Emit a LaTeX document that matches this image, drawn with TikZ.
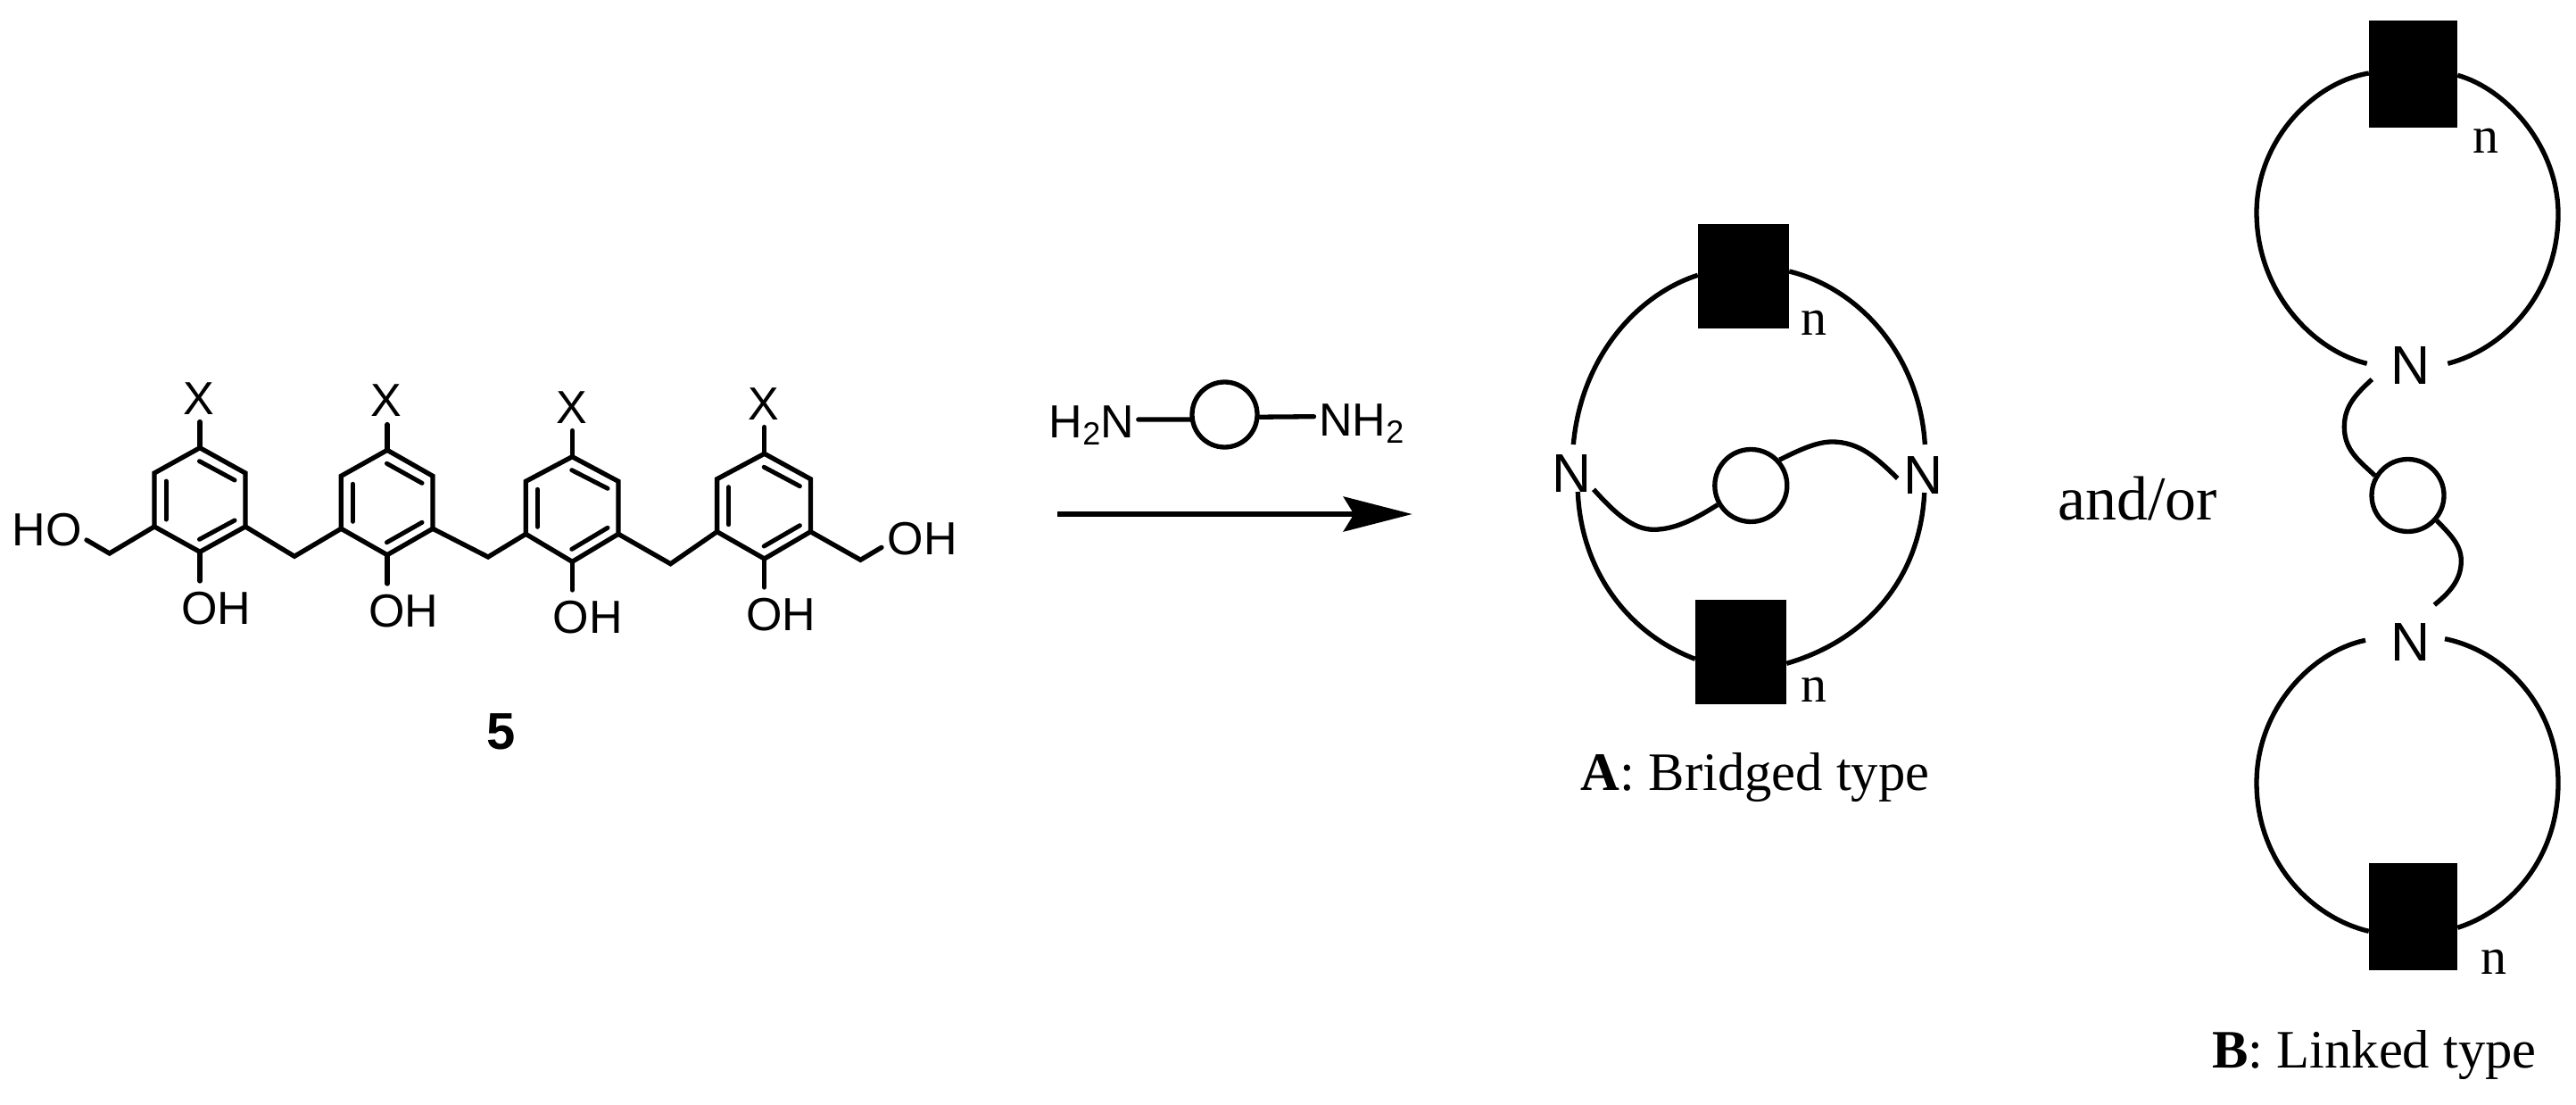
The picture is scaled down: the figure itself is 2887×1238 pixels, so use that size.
\documentclass[tikz,border=0pt]{standalone}
\usepackage{fontspec}
\usepackage{graphicx}
\setmainfont{Liberation Sans}
\newfontfamily\capfont{Liberation Serif}
\usetikzlibrary{arrows.meta}
\newcommand{\chemsize}{\fontsize{52pt}{52pt}\selectfont}
\newcommand{\sbs}[1]{\raisebox{-8pt}{\fontsize{36pt}{36pt}\selectfont #1}}
% name, left x, centre x, right x, top y, upper y, lower y, bottom y
\newcommand{\chemring}[8]{%
  \coordinate (#1t) at (#3,#5);
  \coordinate (#1ur) at (#4,#6);
  \coordinate (#1lr) at (#4,#7);
  \coordinate (#1b) at (#3,#8);
  \coordinate (#1ll) at (#2,#7);
  \coordinate (#1ul) at (#2,#6);
  \draw[bond] (#1t) -- (#1ur) -- (#1lr) -- (#1b) -- (#1ll) -- (#1ul) -- cycle;
  \draw[inner bond] ([shift={(-0.5,15)}]#1t) -- ([shift={(-12,8)}]#1ur);
  \draw[inner bond] ([shift={(13,9)}]#1ul) -- ([shift={(13,-8)}]#1ll);
  \draw[inner bond] ([shift={(-0.5,-14)}]#1b) -- ([shift={(-12,-7)}]#1lr);
}
\tikzset{
  x=1pt,y=-1pt,
  bond/.style={line width=5.3pt,line join=miter,line cap=round},
  inner bond/.style={line width=5pt,line cap=round},
  curve/.style={line width=5.3pt,line cap=butt},
  chembase/.style={font=\chemsize,inner sep=0pt,anchor=base},
  chemN/.style={font=\fontsize{61pt}{61pt}\selectfont,inner sep=0pt,anchor=base},
  caption/.style={font=\capfont\fontsize{60.6pt}{60.6pt}\selectfont,inner sep=0pt,anchor=base west},
  repeat/.style={font=\capfont\fontsize{58pt}{58pt}\selectfont,inner sep=0pt,anchor=base},
  block/.style={fill=black,draw=none,inner sep=0pt,minimum width=#1},
  spacer/.style={draw,circle,line width=5.3pt,inner sep=0pt,minimum size=#1},
}
\begin{document}
\begin{tikzpicture}
\useasboundingbox (0,0) rectangle (2887,1238);

% ---- compound 5 ----
\chemring{a}{173}{224}{275}{501.7}{530}{590}{618.3}
\chemring{b}{382.3}{434}{485}{504.3}{533.3}{592.3}{621.7}
\chemring{c}{589.3}{641.3}{693}{511.7}{539.3}{598.3}{629.3}
\chemring{d}{803.6}{856.7}{908.4}{508.3}{536.7}{595.7}{626}
\coordinate (m1) at (330,623.3);
\coordinate (m2) at (547,624);
\coordinate (m3) at (751.5,631.7);
\coordinate (m0) at (122.7,620);
\coordinate (m4) at (964.4,627.3);
\coordinate (o0) at (97,605);
\coordinate (o4) at (988,613.3);
\draw[bond] (alr) -- (m1) -- (bll);
\draw[bond] (blr) -- (m2) -- (cll);
\draw[bond] (clr) -- (m3) -- (dll);
\draw[bond] (o0) -- (m0) -- (all);
\draw[bond] (o4) -- (m4) -- (dlr);

\node[chembase] (xa) at (223.3,464) {X};
\node[chembase] (xb) at (433.3,466.7) {X};
\node[chembase] (xc) at (641.3,474) {X};
\node[chembase] (xd) at (856,470) {X};
\coordinate (xae) at (224,472.5);
\coordinate (xbe) at (434,475.5);
\coordinate (xce) at (641.3,482.5);
\coordinate (xde) at (856.7,478.5);
\draw[bond] (at) -- (xae);
\draw[bond] (bt) -- (xbe);
\draw[bond] (ct) -- (xce);
\draw[bond] (dt) -- (xde);

\node[chembase] (oa) at (242.5,699.3) {OH};
\node[chembase] (ob) at (452,702.7) {OH};
\node[chembase] (oc) at (658.6,709.3) {OH};
\node[chembase] (od) at (875,706.7) {OH};
\coordinate (oae) at (224,651);
\coordinate (obe) at (434,654);
\coordinate (oce) at (641.3,661);
\coordinate (ode) at (856.7,658);
\draw[bond] (ab) -- (oae);
\draw[bond] (bb) -- (obe);
\draw[bond] (cb) -- (oce);
\draw[bond] (db) -- (ode);
\node[chembase] (ho) at (52.8,611.7) {HO};
\node[chembase] (oh) at (1033.6,621.7) {OH};
\node[inner sep=0pt,font=\bfseries\fontsize{58pt}{58pt}\selectfont] (five) at (562,820) {5};

% ---- reagent and arrow ----
\node[chembase,anchor=base west] (h2n) at (1175.5,490) {H\sbs{2}N};
\node[chembase,anchor=base west] (nh2) at (1478,488.3) {NH\sbs{2}};
\node[spacer=73pt] (rc) at (1372.5,464.5) {};
\coordinate (rl) at (1275.8,470);
\coordinate (rr) at (1472.5,466.7);
\draw[bond] (rl) -- (rc.188.7);
\draw[bond] (rc.356.5) -- (rr);
\coordinate (as) at (1185,576);
\coordinate (ae) at (1582.7,576);
\draw[line width=6pt,-{Stealth[length=77pt,width=39pt,inset=11.7pt]}] (as) -- (ae);

% ---- A: bridged type ----
\node[block=102pt,minimum height=116.7pt] (sa1) at (1954,309.3) {};
\node[block=102pt,minimum height=116.7pt] (sa2) at (1951,730.3) {};
\node[repeat] (na1) at (2032.8,375) {n};
\node[repeat] (na2) at (2032.8,786.7) {n};
\node[chemN] (nal) at (1761.3,551) {N};
\node[chemN] (nar) at (2155,553.3) {N};
\node[spacer=81pt] (ca) at (1962.3,544) {};
\draw[curve] (1763.3,498) .. controls (1772,400) and (1835,330) .. (sa1.west |- 0,308.3);
\draw[curve] (sa1.east |- 0,304) .. controls (2090,325) and (2152,405) .. (2157.3,498);
\draw[curve] (1768.3,551) .. controls (1772,640) and (1825,710) .. (sa2.west |- 0,738.3);
\draw[curve] (2156.7,552) .. controls (2152,650) and (2090,718) .. (sa2.east |- 0,743.3);
\draw[curve] (1786,548.3) .. controls (1810,575) and (1830,593.3) .. (1853.3,593.3) .. controls (1880,593.3) and (1905,578) .. (ca.210);
\draw[curve] (ca.42) .. controls (2015,505) and (2035,495) .. (2053.3,495) .. controls (2085,495) and (2105,515) .. (2126.7,536);
\node[caption] (capa) at (1771.7,885) {\textbf{A}: Bridged type};

% ---- and/or ----
\node[inner sep=0pt,anchor=base west,font=\capfont\fontsize{70pt}{70pt}\selectfont] (andor) at (2306,582.3) {and/or};

% ---- B: linked type ----
\node[block=99pt,minimum height=120pt] (sb1) at (2704.5,82.7) {};
\node[block=99pt,minimum height=119.7pt] (sb2) at (2704.5,1026.8) {};
\node[repeat] (nb1) at (2786.3,171.7) {n};
\node[repeat] (nb2) at (2795.3,1091.7) {n};
\node[chemN] (nbt) at (2701.2,430.7) {N};
\node[chemN] (nbb) at (2701.2,740) {N};
\node[spacer=81pt] (cb) at (2698.5,555) {};
\draw[curve] (sb1.west |- 0,82) .. controls (2590,93) and (2529,160) .. (2529,238) .. controls (2529,325) and (2590,392) .. (2652.7,407.3);
\draw[curve] (sb1.east |- 0,84.3) .. controls (2810,100) and (2867,165) .. (2867,240) .. controls (2867,325) and (2810,390) .. (2743.3,407.3);
\draw[curve] (2651,717.3) .. controls (2590,730) and (2529,795) .. (2529,877) .. controls (2529,965) and (2590,1028) .. (sb2.west |- 0,1043.3);
\draw[curve] (2740,715.7) .. controls (2810,730) and (2867,795) .. (2867,877) .. controls (2867,960) and (2815,1020) .. (sb2.east |- 0,1039.3);
\draw[curve] (2658.3,425) .. controls (2640,442) and (2627.3,455) .. (2627.3,478.3) .. controls (2627.3,505) and (2645,517) .. (cb.149);
\draw[curve] (cb.319) .. controls (2745,598) and (2758.3,610) .. (2758.3,628.3) .. controls (2758.3,650) and (2745,664) .. (2728.3,677.7);
\node[caption] (capb) at (2479,1196.7) {\textbf{B}: Linked type};
\end{tikzpicture}
\end{document}
